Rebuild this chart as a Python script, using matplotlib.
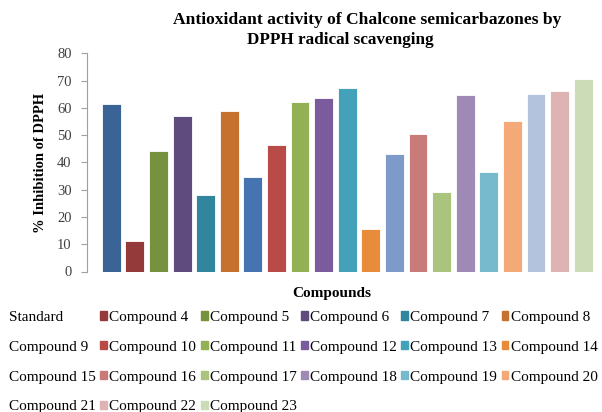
import numpy as np
import matplotlib
matplotlib.use("Agg")
import matplotlib.pyplot as plt
import matplotlib.patches as mpatches

plt.rcParams.update({
    "font.family": "serif",
    "font.serif": ["Liberation Serif", "DejaVu Serif"],
})

# ── data ─────────────────────────────────────────────────────────────────────
labels = ["Standard"] + [f"Compound {i}" for i in range(4, 24)]
values = [61.3, 11.0, 44.2, 57.0, 28.2, 59.0, 34.8, 46.5, 62.0, 63.5,
          67.2, 15.5, 43.0, 50.3, 29.1, 64.6, 36.3, 55.3, 65.1, 66.1, 70.5]
colors = ["#3B6496", "#953A3A", "#77923E", "#5F4B7D", "#31859C", "#C6722E",
          "#4674B0", "#B84A48", "#92B054", "#7A5C9C", "#43A1BA", "#E88B3A",
          "#7E9AC8", "#C97B7A", "#ABC47D", "#9E8AB5", "#78BACD", "#F4A979",
          "#B4C3DD", "#DDB3B4", "#CCDCB6"]
yticks = [0, 10, 20, 30, 40, 50, 60, 70, 80]

W, H = 602, 412
fig = plt.figure(figsize=(W / 100, H / 100), dpi=100)
ax = fig.add_axes([87 / W, (H - 271.5) / H, (W - 87) / W, (271.5 - 53.3) / H])

x = np.arange(len(values))
ax.bar(x, values, width=0.8, color=colors, edgecolor="#FFFFFF",
       linewidth=0.6, zorder=3)

ax.set_xlim(-1.03, 20.8)
ax.set_ylim(0, 80)
ax.set_yticks(yticks)
ax.set_xticks([])
for s in ("top", "right", "bottom"):
    ax.spines[s].set_visible(False)
ax.spines["left"].set_color("#A0A0A0")
ax.spines["left"].set_linewidth(0.8)
ax.tick_params(axis="y", length=4, width=0.8, color="#A0A0A0",
               labelsize=10.5, labelcolor="#404040", pad=7)

# ── titles / labels ──────────────────────────────────────────────────────────
fig.text(367 / W, 1 - 20 / H,
         "Antioxidant activity of Chalcone semicarbazones by",
         ha="center", va="center", fontsize=12.6, fontweight="bold")
fig.text(340 / W, 1 - 40 / H, "DPPH radical scavenging",
         ha="center", va="center", fontsize=12.3, fontweight="bold")
fig.text(41 / W, 1 - 163 / H, "% Inhibition of DPPH", rotation=90,
         ha="center", va="center", fontsize=10.5, fontweight="bold")
fig.text(332 / W, 1 - 293 / H, "Compounds",
         ha="center", va="center", fontsize=11, fontweight="bold")

# ── legend (row-major order, 6 columns; first column markers cut off) ───────
ncol = 6
handles = []
for i, (c, l) in enumerate(zip(colors, labels)):
    handles.append(mpatches.Patch(color=c if i % ncol else "none", label=l))
order = []
for j in range(ncol):
    order += list(range(j, len(handles), ncol))
fig.legend([handles[i] for i in order], [labels[i] for i in order],
           ncol=ncol, loc="upper left", bbox_to_anchor=(0 / W, 1 - 311 / H),
           frameon=False, fontsize=11, handlelength=0.45, handleheight=0.45,
           handletextpad=0.15, columnspacing=0.28, labelspacing=1.1,
           borderaxespad=0, borderpad=0)

fig.savefig("out.png", dpi=100)
